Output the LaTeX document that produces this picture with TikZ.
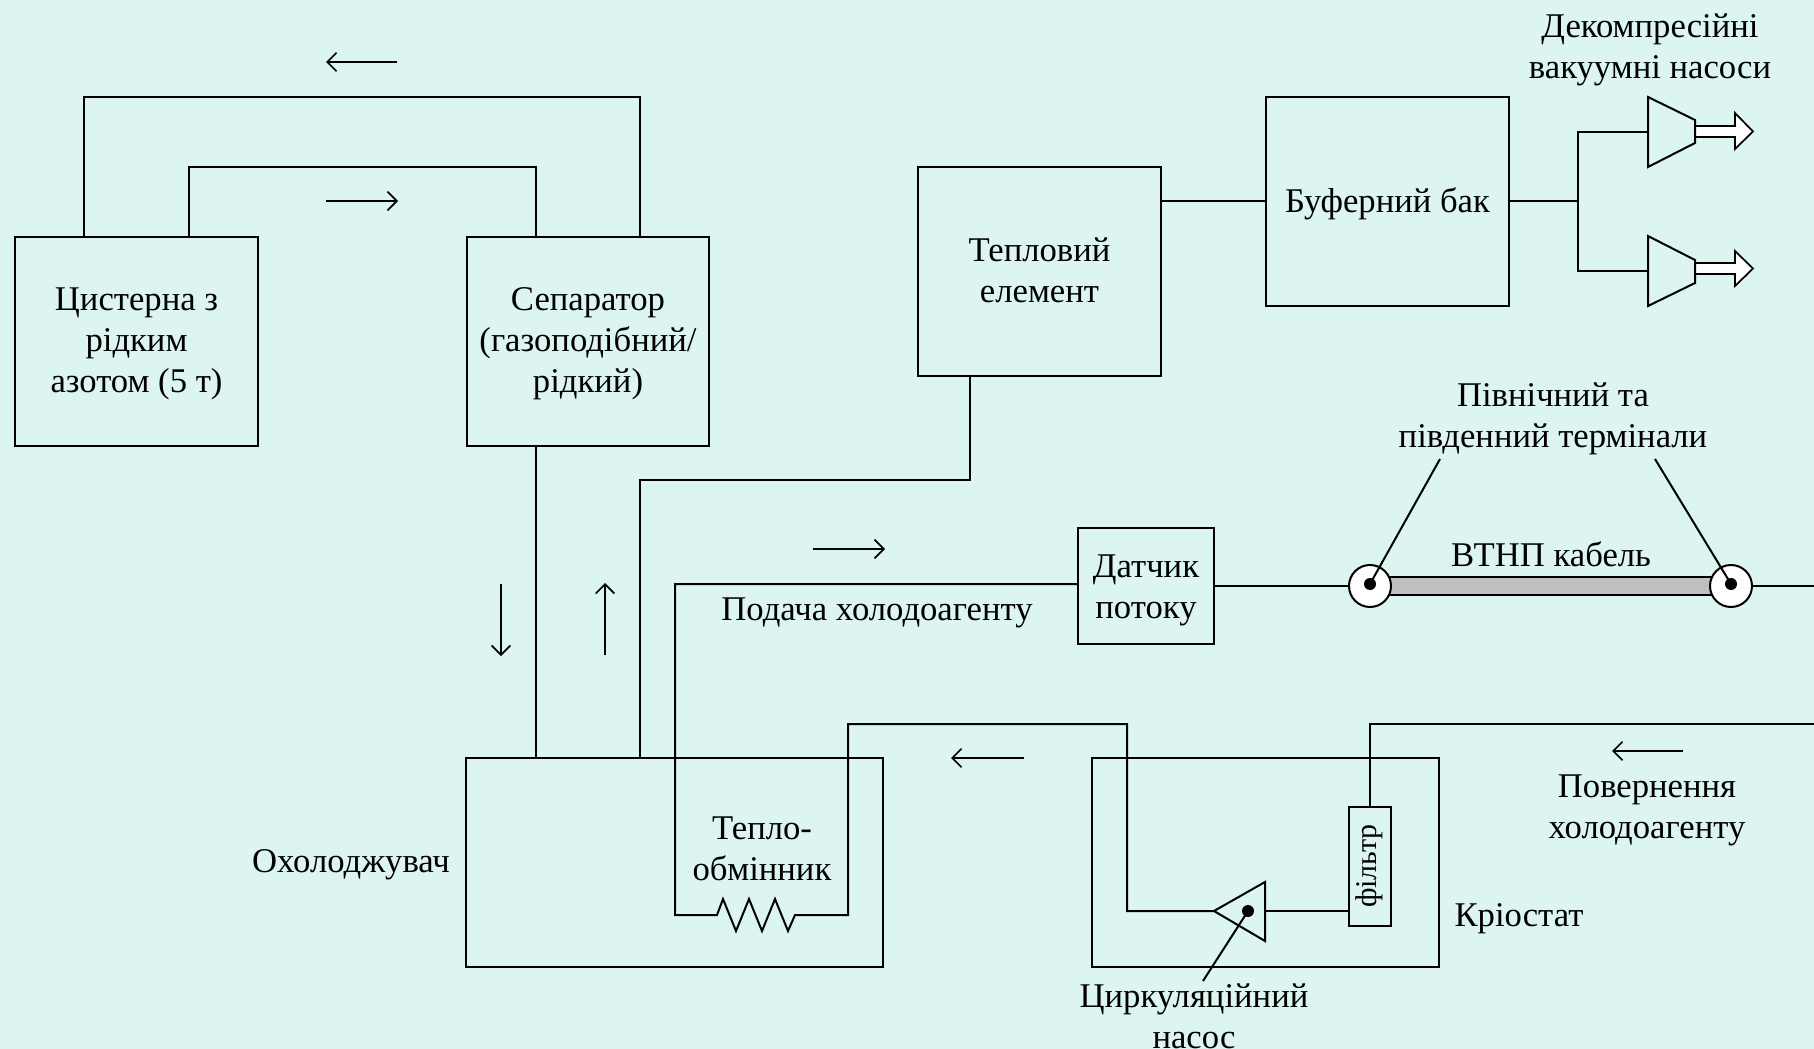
\documentclass[tikz,border=0pt]{standalone}
\usepackage{fontspec}
\setmainfont{Liberation Serif}
\usetikzlibrary{arrows.meta}
\definecolor{bgc}{HTML}{DCF5F1}
\definecolor{barc}{HTML}{BFBFBF}
\tikzset{
  wire/.style={line width=1.5pt,line join=miter},
  flow/.style={line width=1.3pt,-{Straight Barb[length=7pt,width=14pt,line width=1.3pt]}},
  box/.style={draw,line width=1.5pt,inner sep=0pt},
  lbl/.style={inner sep=0pt,align=center,font=\lbl},
  port/.style={circle,draw,fill=white,line width=1.5pt,minimum size=31.5pt,inner sep=0pt},
  dot/.style={circle,fill=black,minimum size=9pt,inner sep=0pt},
  outlet/.style={draw,fill=white,line width=1.3pt,line join=miter}
}
\newcommand{\lbl}{\fontsize{26pt}{30.75pt}\selectfont}
\begin{document}
\begin{tikzpicture}[x=0.75pt,y=-0.75pt]
\fill[bgc] (0,0) rectangle (1814,1049);
\useasboundingbox (0,0) rectangle (1814,1049);
% boxes
\node[box,minimum width=182.25pt,minimum height=156.75pt] (tank) at (136.5,341) {};
\node[box,minimum width=181.5pt,minimum height=156.75pt] (sep) at (588,341) {};
\node[box,minimum width=182.25pt,minimum height=156.75pt] (therm) at (1039.5,271.5) {};
\node[box,minimum width=182.25pt,minimum height=156.75pt] (buf) at (1387.5,201.5) {};
\node[box,minimum width=102pt,minimum height=87pt] (sens) at (1146,586) {};
\node[box,minimum width=312.75pt,minimum height=156.75pt] (cool) at (674.5,862.5) {};
\node[box,minimum width=260.25pt,minimum height=156.75pt] (cryo) at (1265.5,862.5) {};
\node[box,minimum width=31.5pt,minimum height=89.25pt] (filt) at (1370,866.5) {};
\node[inner sep=0pt,rotate=90,font=\fontsize{22.5pt}{26pt}\selectfont] (filttxt) at (1369,866) {фільтр};
% box labels
\node[lbl] (t1l) at (136.5,344) {Цистерна з\\рідким\\азотом (5 т)};
\node[lbl] (t2l) at (588,344) {Сепаратор\\(газоподібний/\\рідкий)};
\node[lbl] (t3l) at (1039.5,270.5) {Тепловий\\елемент};
\node[lbl] (t4l) at (1387.5,203.5) {Буферний бак};
\node[lbl] (t5l) at (1146,590.5) {Датчик\\потоку};
% cable
\coordinate (barL) at (1370,577);
\coordinate (barR) at (1731,595);
\draw[wire,fill=barc] (barL) rectangle (barR);
\node[port] (pl) at (1370,586) {};
\node[port] (pr) at (1731,586) {};
\node[dot] (dl) at (1370,584) {};
\node[dot] (dr) at (1731,584) {};
\coordinate (eastA) at (1814,586);
% labels
\node[lbl] (l1) at (1650,49.5) {Декомпресійні\\вакуумні насоси};
\node[lbl] (l2) at (1553,419) {Північний та\\південний термінали};
\node[lbl] (l3) at (1551,554) {ВТНП кабель};
\node[lbl] (l4) at (877,612.5) {Подача холодоагенту};
\node[lbl] (l5) at (351,864.5) {Охолоджувач};
\node[lbl] (l6) at (1519,919) {Кріостат};
\node[lbl] (l7) at (1647,810) {Повернення\\холодоагенту};
\node[lbl] (l8) at (762,848.5) {Тепло-\\обмінник};
\node[lbl] (l9) at (1194,1016) {Циркуляційний\\насос};
% connectors tank/separator
\coordinate (a1) at (84,97);
\coordinate (a2) at (640,97);
\coordinate (b1) at (188.5,167);
\coordinate (b2) at (536,167);
\draw[wire] (a1 |- tank.north) -- (a1) -- (a2) -- (a2 |- sep.north);
\draw[wire] (b1 |- tank.north) -- (b1) -- (b2) -- (b2 |- sep.north);
% separator to cooler
\draw[wire] (b2 |- sep.south) -- (b2 |- cool.north);
\coordinate (c1) at (640,480);
\coordinate (c2) at (970,480);
\draw[wire] (a2 |- cool.north) -- (c1) -- (c2) -- (c2 |- therm.south);
% buffer to pumps
\coordinate (j) at (1578,201);
\coordinate (p1) at (1648,132);
\coordinate (p2) at (1648,271);
\draw[wire] (therm.east |- j) -- (buf.west |- j);
\draw[wire] (buf.east |- j) -- (j) (p1) -- (j |- p1) -- (j |- p2) -- (p2);
% pumps
\coordinate (p1a) at (1648,97); \coordinate (p1b) at (1695,120); \coordinate (p1c) at (1695,143); \coordinate (p1d) at (1648,167);
\coordinate (p2a) at (1648,236); \coordinate (p2b) at (1695,260); \coordinate (p2c) at (1695,283); \coordinate (p2d) at (1648,306);
\draw[outlet] (1695,126) -- (1735,126) -- (1735,113) -- (1753,131.5) -- (1735,149) -- (1735,137) -- (1695,137) -- cycle;
\draw[outlet] (1695,263) -- (1735,263) -- (1735,251) -- (1753,268.5) -- (1735,286) -- (1735,274) -- (1695,274) -- cycle;
\draw[wire,fill=bgc] (p1a) -- (p1b) -- (p1c) -- (p1d) -- cycle;
\draw[wire,fill=bgc] (p2a) -- (p2b) -- (p2c) -- (p2d) -- cycle;
% supply
\coordinate (s1) at (675,915);
\coordinate (s2) at (675,584);
\coordinate (r0) at (717,915);
\coordinate (r1) at (795,915);
\coordinate (s3) at (848,915);
\coordinate (s4) at (848,724);
\coordinate (s5) at (1127,724);
\coordinate (s6) at (1127,911);
\draw[wire] (sens.west |- s2) -- (s2) -- (s1) -- (r0) -- (723,899) -- (736,931) -- (749,899) -- (762,931) -- (775,899) -- (788,931) -- (r1) -- (s3) -- (s4) -- (s5) -- (s6) -- (1214,911);
\draw[wire] (sens.east) -- (pl.west);
\draw[wire] (pr.east) -- (eastA);
% circulation pump
\coordinate (t1) at (1214,911); \coordinate (t2) at (1265,882); \coordinate (t3) at (1265,941);
\draw[wire,line join=miter] (t1) -- (t2) -- (t3) -- cycle;
\draw[wire] (1265,911) -- (filt.west |- t1);
\node[dot] (dp) at (1248,911) {};
\coordinate (dpE) at (1203,981);
\draw[wire] (dp.center) -- (dpE);
\coordinate (ret) at (1370,724);
\draw[wire] (filt.north) -- (ret) -- (ret -| eastA);
% leaders
\coordinate (lead1) at (1440,459);
\coordinate (lead2) at (1655,459);
\draw[wire] (lead1) -- (dl.center);
\draw[wire] (lead2) -- (dr.center);
% flow arrows
\coordinate (f1a) at (397,62); \coordinate (f1b) at (326,62);
\coordinate (f2a) at (326,201); \coordinate (f2b) at (398,201);
\coordinate (f3a) at (501,584); \coordinate (f3b) at (501,656);
\coordinate (f4a) at (605,655); \coordinate (f4b) at (605,583);
\coordinate (f5a) at (813,549); \coordinate (f5b) at (885,549);
\coordinate (f6a) at (1024,758); \coordinate (f6b) at (951,758);
\coordinate (f7a) at (1683,751); \coordinate (f7b) at (1612,751);
\draw[flow] (f1a) -- (f1b);
\draw[flow] (f2a) -- (f2b);
\draw[flow] (f3a) -- (f3b);
\draw[flow] (f4a) -- (f4b);
\draw[flow] (f5a) -- (f5b);
\draw[flow] (f6a) -- (f6b);
\draw[flow] (f7a) -- (f7b);
\end{tikzpicture}
\end{document}
